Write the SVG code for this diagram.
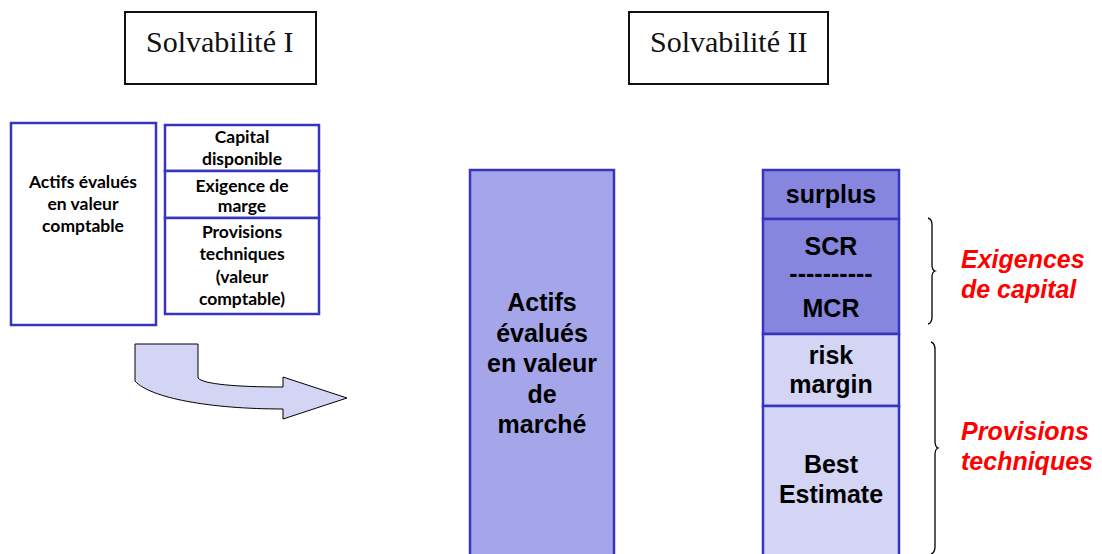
<svg xmlns="http://www.w3.org/2000/svg" width="1102" height="554" viewBox="0 0 1102 554">
  <style>
    .title { fill: #ffffff; stroke: #111111; stroke-width: 2; }
    .title-text { font-family: "Liberation Serif", "DejaVu Serif", serif; font-size: 30px; fill: #111111; }
    .box { stroke: #3535c0; stroke-width: 2.5; }
    .white { fill: #ffffff; }
    .mid { fill: #a5a5e9; }
    .dark { fill: #8686de; }
    .light { fill: #d4d4f4; }
    .small { font-family: Lato, "Open Sans", sans-serif; font-weight: bold; font-size: 17.5px; fill: #000; text-anchor: middle; }
    .big { font-family: "Liberation Sans", Arial, sans-serif; font-weight: bold; font-size: 25px; fill: #000; text-anchor: middle; }
    .red { font-family: "Liberation Sans", Arial, sans-serif; font-weight: bold; font-style: italic; font-size: 25px; fill: #ff0000; }
    .brace { fill: none; stroke: #000; stroke-width: 1.3; }
  </style>

  <!-- headings -->
  <g id="solva1">
    <rect class="title" x="125" y="12" width="191" height="72"/>
    <text class="title-text" x="146" y="52">Solvabilité I</text>
  </g>
  <g id="solva2">
    <rect class="title" x="629" y="12" width="199" height="72"/>
    <text class="title-text" x="650" y="52">Solvabilité II</text>
  </g>

  <!-- Solvency I balance sheet -->
  <g id="actifs-comptable">
    <rect class="box white" x="11" y="123" width="145" height="202"/>
    <text class="small" x="83" y="188">Actifs évalués</text>
    <text class="small" x="83" y="210">en valeur</text>
    <text class="small" x="83" y="232">comptable</text>
  </g>
  <g id="capital-disponible">
    <rect class="box white" x="165" y="125" width="154" height="46"/>
    <text class="small" x="242" y="143">Capital</text>
    <text class="small" x="242" y="165">disponible</text>
  </g>
  <g id="exigence-marge">
    <rect class="box white" x="165" y="171" width="154" height="47"/>
    <text class="small" x="242" y="192">Exigence de</text>
    <text class="small" x="242" y="212">marge</text>
  </g>
  <g id="provisions-comptable">
    <rect class="box white" x="165" y="218" width="154" height="96"/>
    <text class="small" x="242" y="238">Provisions</text>
    <text class="small" x="242" y="260">techniques</text>
    <text class="small" x="242" y="283">(valeur</text>
    <text class="small" x="242" y="305">comptable)</text>
  </g>

  <!-- transition arrow -->
  <g id="connectors">
    <path d="M135,344 L198,344 L198,378 C203,384 235,387 283,387 L283,377 L347,398 L283,419 L283,409 C210,409 150,398 135,381 Z" fill="#d4d4f4" stroke="#000" stroke-width="1"/>
  </g>

  <!-- Solvency II assets -->
  <g id="actifs-marche">
    <rect class="box mid" x="470" y="170" width="144" height="400"/>
    <text class="big" x="542" y="311">Actifs</text>
    <text class="big" x="542" y="342">évalués</text>
    <text class="big" x="542" y="372">en valeur</text>
    <text class="big" x="542" y="403">de</text>
    <text class="big" x="542" y="433">marché</text>
  </g>

  <!-- Solvency II liabilities -->
  <g id="surplus">
    <rect class="box dark" x="763" y="170" width="136" height="49"/>
    <text class="big" x="831" y="203">surplus</text>
  </g>
  <g id="scr-mcr">
    <rect class="box dark" x="763" y="219" width="136" height="115"/>
    <text class="big" x="831" y="255">SCR</text>
    <text class="big" x="831" y="282">----------</text>
    <text class="big" x="831" y="317">MCR</text>
  </g>
  <g id="risk-margin">
    <rect class="box light" x="763" y="334" width="136" height="72"/>
    <text class="big" x="831" y="364">risk</text>
    <text class="big" x="831" y="393">margin</text>
  </g>
  <g id="best-estimate">
    <rect class="box light" x="763" y="406" width="136" height="170"/>
    <text class="big" x="831" y="473">Best</text>
    <text class="big" x="831" y="503">Estimate</text>
  </g>

  <!-- braces and their labels -->
  <g id="exigences-capital">
    <path class="brace" d="M928,218 Q932,219 932,225 L932,265 Q932,270 935,271 Q932,272 932,277 L932,317 Q932,323 928,324"/>
    <text class="red" x="961" y="268">Exigences</text>
    <text class="red" x="961" y="298">de capital</text>
  </g>
  <g id="provisions-techniques">
    <path class="brace" d="M931,342 Q935,343 935,350 L935,441 Q935,447 938,448 Q935,449 935,455 L935,546 Q935,553 931,554"/>
    <text class="red" x="961" y="440">Provisions</text>
    <text class="red" x="961" y="470">techniques</text>
  </g>
</svg>
